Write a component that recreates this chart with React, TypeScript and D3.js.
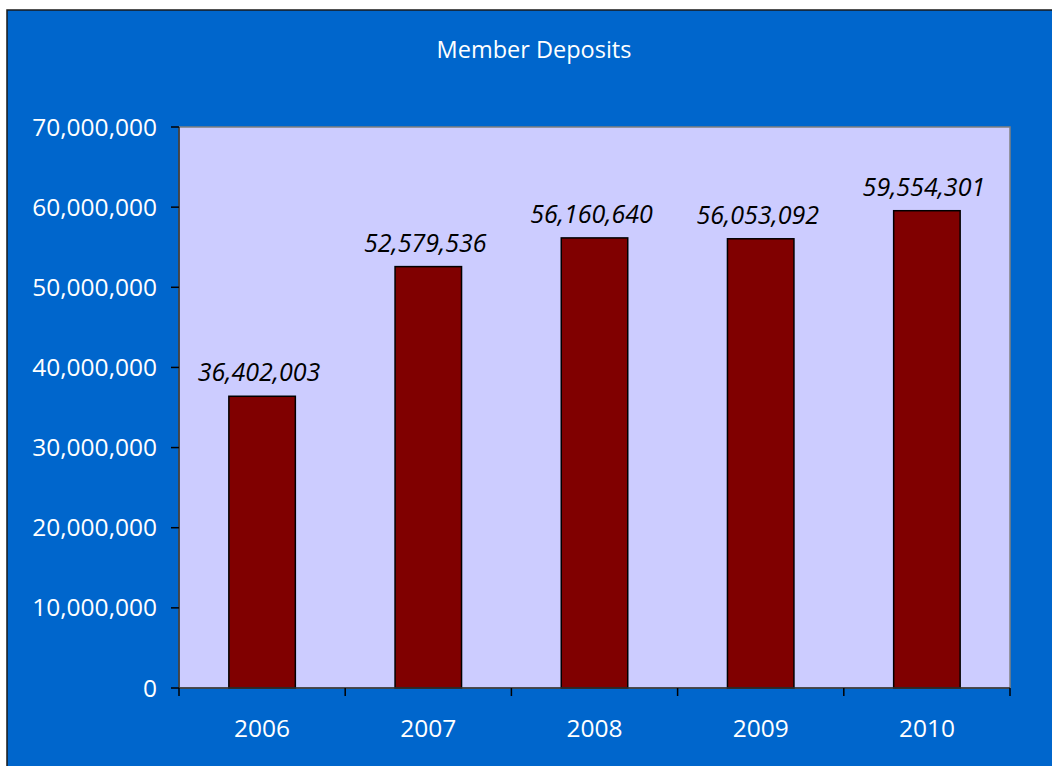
import React from "react";
import * as d3 from "d3";

const categories = ["2006", "2007", "2008", "2009", "2010"];
const deposits = [36402003, 52579536, 56160640, 56053092, 59554301];
const yTicks = [0, 10000000, 20000000, 30000000, 40000000, 50000000, 60000000, 70000000];
const title = "Member Deposits";

const W = 1052;
const H = 766;
const plot = { left: 179, top: 127, right: 1010, bottom: 688 };
const FONT = "'Open Sans', sans-serif";

export default function App() {
  const x = d3.scaleBand<string>().domain(categories).range([plot.left, plot.right]).paddingInner(0.6).paddingOuter(0.3);
  const xb = d3.scaleBand<string>().domain(categories).range([plot.left, plot.right]);
  const y = d3.scaleLinear().domain([0, 70000000]).range([plot.bottom, plot.top]);
  const fmt = d3.format(",");
  return (
    <div style={{ position: "fixed", left: 0, top: 0 }}>
      <svg width={W} height={H} style={{ display: "block" }}>
        <rect x={0} y={0} width={W} height={H} fill="#ffffff" />
        <rect x={7} y={10} width={W + 10} height={H + 10} fill="#0066CC" stroke="#1a1a1a" strokeWidth={1.5} />
        <text x={534} y={58} textAnchor="middle" fill="#ffffff" fontFamily={FONT} fontSize={23.5}>{title}</text>
        <rect x={plot.left} y={plot.top} width={plot.right - plot.left} height={plot.bottom - plot.top} fill="#CCCCFF" stroke="#808080" strokeWidth={1.5} />
        {deposits.map((v, i) => (
          <rect key={categories[i]} x={x(categories[i])!} y={y(v)} width={x.bandwidth()} height={plot.bottom - y(v)} fill="#800000" stroke="#000000" strokeWidth={1.5} />
        ))}
        {deposits.map((v, i) => (
          <text key={"l" + i} x={x(categories[i])! + x.bandwidth() / 2 - 3} y={y(v) - 15} textAnchor="middle" fill="#000000" fontFamily={FONT} fontStyle="italic" fontSize={25}>{fmt(v)}</text>
        ))}
        <line x1={plot.left} x2={plot.left} y1={plot.top} y2={plot.bottom} stroke="#333333" strokeWidth={1.5} />
        <line x1={plot.left} x2={plot.right} y1={plot.bottom} y2={plot.bottom} stroke="#333333" strokeWidth={1.5} />
        {yTicks.map((t) => (
          <g key={t}>
            <line x1={plot.left - 8} x2={plot.left} y1={y(t)} y2={y(t)} stroke="#000000" strokeWidth={1.5} />
            <text x={157} y={y(t) + 8.5} textAnchor="end" fill="#ffffff" fontFamily={FONT} fontSize={24.5}>{fmt(t)}</text>
          </g>
        ))}
        {categories.map((c) => (
          <line key={"t" + c} x1={xb(c)!} x2={xb(c)!} y1={plot.bottom} y2={plot.bottom + 8} stroke="#000000" strokeWidth={1.5} />
        ))}
        <line x1={plot.right} x2={plot.right} y1={plot.bottom} y2={plot.bottom + 8} stroke="#000000" strokeWidth={1.5} />
        {categories.map((c) => (
          <text key={"x" + c} x={xb(c)! + xb.bandwidth() / 2} y={737} textAnchor="middle" fill="#ffffff" fontFamily={FONT} fontSize={24.5}>{c}</text>
        ))}
      </svg>
    </div>
  );
}
